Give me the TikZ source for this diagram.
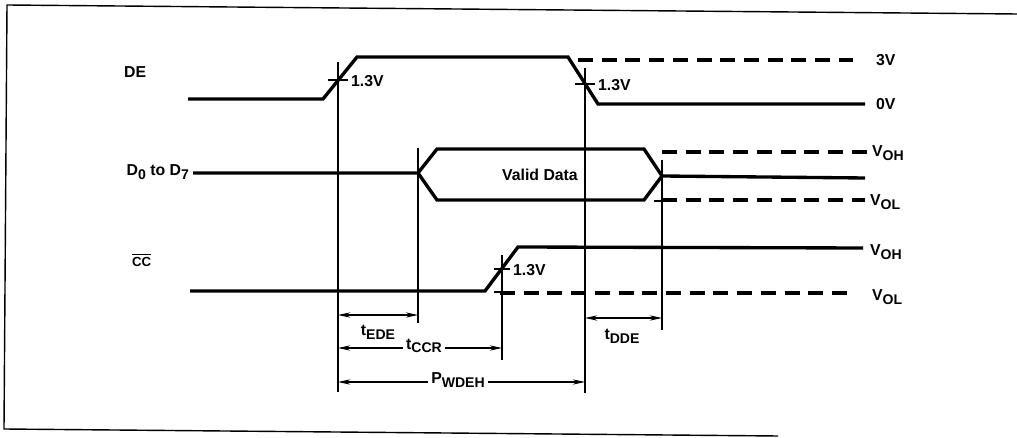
\documentclass[tikz,border=0pt]{standalone}
\usepackage{fontspec}
\setmainfont{Liberation Sans}
\usetikzlibrary{arrows.meta}

\tikzset{
  sig/.style={line width=1.9pt, line join=miter},
  lvl/.style={line width=1.9pt, dash pattern=on 8.5pt off 5pt},
  thin/.style={line width=0.6pt},
  dim/.style={line width=0.6pt, {Stealth[length=7pt,width=3pt]}-{Stealth[length=7pt,width=3pt]}},
  lbl/.style={font=\fontsize{9}{10}\selectfont\bfseries, inner sep=1pt},
}
\newcommand{\lo}[1]{\raisebox{-0.45ex}{\fontsize{8}{9}\selectfont\bfseries #1}}

\begin{document}
\begin{tikzpicture}[x=0.02cm, y=-0.02cm]
    \useasboundingbox (0,0) rectangle (1017,438);

    % frame
    \draw[line width=0.8pt] (1017,14) -- (7,5) -- (4,429) -- (778,436);

    % DE
    \draw[sig] (188,99) -- (323,99) -- (357,57) -- (568,57) -- (598,104) -- (865,104);
    \draw[lvl] (578,60) -- (853,60);

    % D0 to D7
    \draw[sig] (193,173) -- (418,173) -- (437,149) -- (644,149) -- (662,176) -- (644,200) -- (437,200) -- (418,173);
    \draw[sig] (662,176) -- (865,178);
    \draw[lvl] (662,152) -- (868,152);
    \draw[lvl] (662,200) -- (865,200);

    % CC
    \draw[sig] (190,291) -- (485,291) -- (518,247) -- (863,248);
    \draw[lvl] (500,293) -- (853,293);

    % reference lines
    \draw[thin] (338,62) -- (338,392);
    \draw[thin] (328,80) -- (348,80);
    \draw[thin] (585,68) -- (585,393);
    \draw[thin] (575,84) -- (595,84);
    \draw[thin] (418,148) -- (418,323);
    \draw[thin] (662,160) -- (662,330);
    \draw[thin] (654,201) -- (670,201);
    \draw[thin] (502,255) -- (502,360);
    \draw[thin] (494,269) -- (510,269);
    \draw[thin] (494,292) -- (510,292);

    % timing arrows
    \coordinate (e1) at (338,315);
    \coordinate (e2) at (418,315);
    \coordinate (c1) at (338,348);
    \coordinate (c2) at (502,348);
    \coordinate (p1) at (338,382);
    \coordinate (p2) at (585,382);
    \coordinate (d1) at (585,318);
    \coordinate (d2) at (662,318);
    \draw[dim] (e1) -- (e2);
    \draw[dim] (c1) -- (c2);
    \draw[dim] (p1) -- (p2);
    \draw[dim] (d1) -- (d2);

    \node[lbl] (tede) at (378,332) {t\lo{EDE}};
    \node[lbl, fill=white, inner sep=2pt] (tccr) at (424,346) {t\lo{CCR}};
    \node[lbl, fill=white, inner sep=2pt] (pwdeh) at (458,380) {P\lo{WDEH}};
    \node[lbl] (tdde) at (622,336) {t\lo{DDE}};

    % signal names
    \node[lbl, anchor=west] (de) at (122,72) {DE};
    \node[lbl, anchor=east] (dbus) at (191,172) {D\lo{0} to D\lo{7}};
    \node[lbl, anchor=west, font=\fontsize{7.5}{8}\selectfont\bfseries] (cc) at (130,260) {$\overline{\mbox{CC}}$};
    \node[lbl] (valid) at (540,175) {Valid Data};

    % thresholds
    \node[lbl, anchor=west] (th1) at (349,81) {1.3V};
    \node[lbl, anchor=west] (th2) at (596,85) {1.3V};
    \node[lbl, anchor=west] (th3) at (511,270) {1.3V};

    % levels
    \node[lbl, anchor=west] (v3) at (874,60) {3V};
    \node[lbl, anchor=west] (v0) at (874,104) {0V};
    \node[lbl, anchor=west] (voh1) at (870,153) {V\lo{OH}};
    \node[lbl, anchor=west] (vol1) at (868,202) {V\lo{OL}};
    \node[lbl, anchor=west] (voh2) at (868,252) {V\lo{OH}};
    \node[lbl, anchor=west] (vol2) at (870,297) {V\lo{OL}};
\end{tikzpicture}
\end{document}
